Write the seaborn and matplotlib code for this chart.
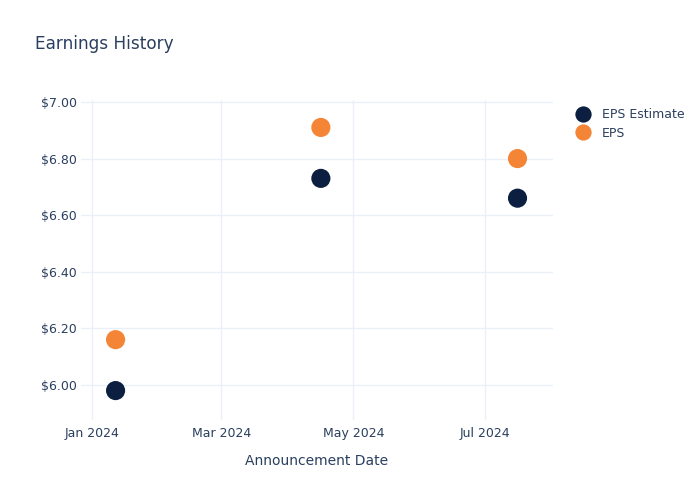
import matplotlib
matplotlib.use("Agg")
import matplotlib.pyplot as plt
import matplotlib.dates as mdates
import seaborn as sns
import pandas as pd
from matplotlib.ticker import FuncFormatter

dates = ["2024-01-12", "2024-04-16", "2024-07-16"]
eps_estimate = [5.98, 6.73, 6.66]
eps_actual = [6.16, 6.91, 6.80]
series_names = ["EPS Estimate", "EPS"]
x_ticks = ["2024-01-01", "2024-03-01", "2024-05-01", "2024-07-01"]
y_ticks = [6.0, 6.2, 6.4, 6.6, 6.8, 7.0]

df = pd.DataFrame({
    "date": pd.to_datetime(dates * 2),
    "value": eps_estimate + eps_actual,
    "series": [series_names[0]] * 3 + [series_names[1]] * 3,
})

sns.set_style("white")
plt.rcParams["font.family"] = ["DejaVu Sans"]
text_color = "#2a3f5f"
grid_color = "#ebf0f8"

fig = plt.figure(figsize=(7, 5), dpi=100)
ax = fig.add_axes([81/700, 80/500, (553-81)/700, 320/500])

sns.scatterplot(data=df, x="date", y="value", hue="series",
                palette={"EPS Estimate": "#0c1f40", "EPS": "#f58536"},
                s=190, linewidth=0, edgecolor="none", ax=ax, zorder=3)

ax.set_xlim(pd.Timestamp("2023-12-27 00:00"), pd.Timestamp("2024-08-01 10:00"))
ax.set_ylim(5.876, 7.007)
ax.set_xticks(pd.to_datetime(x_ticks))
ax.xaxis.set_major_formatter(mdates.DateFormatter("%b %Y"))
ax.set_yticks(y_ticks)
ax.yaxis.set_major_formatter(FuncFormatter(lambda v, p: f"${v:.2f}"))
ax.grid(True, color=grid_color, linewidth=1)
ax.set_axisbelow(True)
for s in ax.spines.values():
    s.set_visible(False)
ax.tick_params(axis="both", length=0, labelsize=9, labelcolor=text_color)
ax.tick_params(axis="y", pad=3)
ax.tick_params(axis="x", pad=5)
ax.set_xlabel("Announcement Date", fontsize=10, color=text_color, labelpad=10)
ax.set_ylabel("")

fig.text(35/700, 1 - 44/500, "Earnings History", fontsize=12.2, color=text_color,
         va="center", ha="left")

leg = ax.legend(loc="upper left", bbox_to_anchor=(565/700, 1 - 103/500),
                bbox_transform=fig.transFigure, frameon=False, fontsize=9,
                handletextpad=0.55, labelspacing=0.45, markerscale=0.85,
                borderaxespad=0, title=None)
for t in leg.get_texts():
    t.set_color(text_color)

fig.savefig("out.png", dpi=100)
